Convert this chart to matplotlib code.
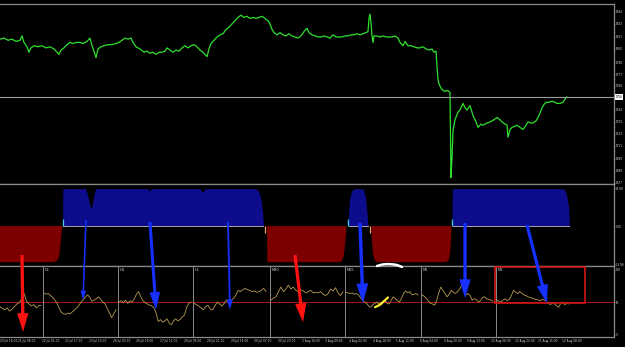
import numpy as np
import matplotlib.pyplot as plt
from matplotlib.patches import Rectangle

# main price series (x = bar position on the time axis)
price_x = [0, 4, 8, 12, 16, 20, 22, 24, 27, 29, 31, 34, 38, 42, 46, 50, 54, 57, 59, 61,
           64, 67, 70, 73, 76, 80, 83, 87, 90, 92, 94, 96, 98, 101, 104, 108, 112, 116, 119, 122,
           125, 128, 131, 133, 136, 140, 144, 147, 150, 153, 156, 159, 162, 165, 167, 170, 173, 176, 179, 182,
           185, 188, 191, 194, 197, 200, 203, 205, 207, 209, 211, 214, 217, 220, 223, 226, 229, 232, 235, 238,
           241, 244, 247, 250, 253, 256, 259, 262, 265, 268, 270, 272, 274, 277, 280, 283, 286, 289, 292, 295,
           298, 301, 304, 307, 309, 312, 315, 318, 321, 324, 327, 330, 333, 336, 339, 342, 345, 348, 351, 354,
           357, 360, 363, 366, 368, 369, 370, 371, 372, 373, 374, 377, 380, 383, 386, 389, 392, 395, 398, 400,
           403, 405, 408, 411, 414, 417, 420, 423, 426, 429, 432, 434, 436, 437, 438, 439, 441, 443, 445, 447,
           449, 450, 451, 452, 453, 455, 458, 460, 463, 465, 467, 470, 473, 476, 478, 481, 483, 487, 490, 494,
           497, 500, 502, 505, 507, 508, 510, 512, 515, 517, 520, 523, 526, 528, 531, 533, 536, 538, 540, 542,
           544, 546, 549, 552, 555, 557, 560, 563, 565, 567]
price_y = [1809, 1810, 1808, 1809, 1807, 1808, 1812, 1806, 1802, 1797, 1801, 1803, 1802, 1803, 1801, 1802, 1800, 1797, 1795, 1799,
           1801, 1804, 1806, 1805, 1806, 1806, 1805, 1807, 1810, 1803, 1798, 1792, 1800, 1802, 1803, 1804, 1804, 1805, 1806, 1808,
           1810, 1809, 1810, 1806, 1802, 1800, 1797, 1798, 1796, 1797, 1795, 1797, 1797, 1798, 1801, 1799, 1797, 1799, 1798, 1801,
           1803, 1801, 1803, 1804, 1802, 1799, 1797, 1795, 1793, 1800, 1805, 1808, 1811, 1813, 1814, 1818, 1820, 1823, 1826, 1829,
           1831, 1829, 1830, 1828, 1829, 1828, 1829, 1830, 1828, 1826, 1823, 1818, 1815, 1813, 1815, 1813, 1812, 1814, 1812, 1811,
           1810, 1812, 1816, 1819, 1815, 1813, 1812, 1811, 1811, 1812, 1811, 1810, 1813, 1811, 1811, 1811, 1812, 1812, 1813, 1813,
           1814, 1813, 1814, 1815, 1816, 1828, 1832, 1824, 1812, 1806, 1812, 1812, 1811, 1812, 1811, 1811, 1811, 1812, 1810, 1806,
           1803, 1807, 1803, 1803, 1802, 1801, 1801, 1802, 1800, 1799, 1800, 1797, 1798, 1784, 1772, 1768, 1764, 1762, 1761, 1762,
           1761, 1760, 1682, 1700, 1725, 1735, 1742, 1744, 1750, 1746, 1744, 1748, 1739, 1733, 1728, 1731, 1730, 1732, 1733, 1735,
           1737, 1735, 1733, 1731, 1730, 1719, 1726, 1728, 1729, 1730, 1728, 1726, 1730, 1733, 1732, 1732, 1734, 1737, 1741, 1746,
           1749, 1751, 1751, 1752, 1751, 1750, 1750, 1751, 1754, 1755.9]
price_ticks = [1834, 1823, 1811, 1800, 1788, 1777, 1766, 1744, 1733, 1722, 1711, 1699, 1688, 1677]

# oscillator (blue above zero, red below)
osc_x = [0, 54, 57, 59, 60, 61, 62, 62.5,
         63, 63.3, 86, 88, 90, 92, 94, 96, 148, 150, 152, 200, 203, 206, 256, 259, 261, 263, 264,
         267, 267.3, 339, 342, 344, 345.5, 346.5,
         348.5, 349, 350, 352, 355, 362, 364, 366, 367.5, 368.5,
         371.5, 372, 373, 375, 377, 446, 448.5, 450, 451, 451.5,
         452.5, 452.8, 562, 565, 567, 569, 570]
osc_v = [-15.2, -15.2, -14.6, -13, -10, -5, -1, 0,
         0, 15.5, 15.5, 13, 9, 7, 12, 15.5, 15.5, 14.5, 15.5, 15.5, 14, 15.5, 15.5, 14.5, 12, 6, 0,
         0, -15.2, -15.2, -14.6, -12, -6, 0,
         0, 5, 11, 14.5, 15.5, 15.5, 15, 12, 5, 0,
         0, -6, -12, -14.6, -15.2, -15.2, -14.6, -12, -6, 0,
         0, 15.5, 15.5, 15, 13, 8, 0]
cyan_x = [63, 348, 452]
orange_x = [265, 370]

# multi-timeframe RSI strip
tf_names = ['W1', 'D1', 'H4', 'H1', 'M30', 'M15', 'M5', 'M1']
tf_bounds = [(0, 41), (44, 116), (119, 191), (194, 266), (271, 343), (346, 418), (422, 493), (497, 569)]
rsi_w1 = [43, 40, 38, 41, 36, 39, 43, 47, 49, 55, 63, 51, 47, 44, 46, 41, 44, 45]
rsi_d1 = [64, 62, 63, 60, 57, 53, 48, 40, 34, 32, 31, 33, 32, 35, 38, 41, 45, 50, 54, 58, 61, 57, 51, 53, 55, 58, 54, 50, 47, 40, 33, 26, 32, 38]
rsi_h4 = [50, 52, 49, 53, 48, 52, 50, 55, 62, 66, 58, 52, 49, 47, 45, 44, 41, 33, 20, 23, 19, 21, 24, 18, 15, 21, 24, 21, 23, 27, 30, 42, 48, 50]
rsi_h1 = [48, 46, 44, 41, 38, 43, 45, 39, 38, 44, 50, 47, 44, 48, 53, 50, 52, 56, 60, 68, 66, 69, 71, 69, 68, 66, 67, 65, 66, 68, 71, 66]
rsi_m30 = [53, 56, 58, 66, 73, 66, 70, 76, 70, 73, 68, 66, 69, 67, 64, 66, 68, 64, 65, 64, 66, 62, 60, 63, 70, 67, 72, 64, 60, 66]
rsi_m15 = [65, 64, 63, 64, 62, 63, 61, 57, 53, 50, 48, 44, 42, 46, 48, 50, 47, 45, 49, 52, 48, 47, 53, 58, 55, 52, 50, 56, 63, 67, 64, 66, 61, 62, 63, 61]
rsi_m5 = [61, 59, 56, 52, 48, 47, 45, 52, 64, 73, 68, 63, 58, 62, 68, 65, 63, 66, 70, 76, 68, 61, 63, 60, 53, 55, 54, 50, 52, 57, 58, 55, 54, 53, 51]
rsi_m1 = [53, 51, 50, 53, 55, 52, 54, 60, 68, 65, 63, 66, 64, 61, 60, 58, 57, 56, 55, 54, 53, 52, 54, 53, 51, 48, 46, 49, 47, 44, 42, 48, 50, 46, 48, 47]
rsi_all = [rsi_w1, rsi_d1, rsi_h4, rsi_h1, rsi_m30, rsi_m15, rsi_m5, rsi_m1]

date_labels = ['20 Jul 16:00', '21 Jul 08:00', '22 Jul 01:00', '22 Jul 17:00', '23 Jul 10:00',
               '26 Jul 03:00', '26 Jul 19:00', '27 Jul 12:00', '28 Jul 05:00', '28 Jul 21:00',
               '29 Jul 14:00', '30 Jul 07:00', '30 Jul 23:00', '2 Aug 16:00', '3 Aug 09:00',
               '4 Aug 02:00', '4 Aug 18:00', '5 Aug 11:00', '6 Aug 04:00', '6 Aug 20:00',
               '9 Aug 13:00', '10 Aug 06:00', '10 Aug 22:00', '11 Aug 15:00', '12 Aug 08:00']

# hand-drawn arrows: (x start, osc value) -> (x end, rsi value)
blue_arrows = [((86, 2.5), (83, 53), 0.9), ((150, 1.7), (156, 38), 1.7), ((228, 1.7), (230, 38), 1.0),
               ((360, 1.3), (363, 48), 1.9), ((465, 1.3), (465, 56), 1.8), ((527, 0.4), (547, 48), 1.8)]
red_arrows = [((22, -12.2), (23, 4), 1.8), ((295, -12.2), (303, 19), 1.8)]
white_mark_x = [377, 382, 387, 393, 397, 402]
white_mark_y = [105.4, 107.6, 108.4, 107.9, 106.9, 103.9]
yellow_mark_x = [375, 379, 383, 388]
yellow_mark_y = [42, 45, 50, 57]

W, H = 625, 347
right = 614
grey = '#8a8a8a'
fig = plt.figure(figsize=(6.25, 3.47), dpi=100, facecolor='black')


def panel(top, bottom):
    ax = fig.add_axes([0, 1 - bottom / H, right / W, (bottom - top) / H])
    ax.set_facecolor('black')
    ax.set_xlim(0, right)
    ax.spines['left'].set_visible(False)
    for s in ['top', 'right', 'bottom']:
        ax.spines[s].set_color(grey)
        ax.spines[s].set_linewidth(0.9)
    ax.set_xticks([])
    ax.yaxis.tick_right()
    ax.tick_params(axis='y', color=grey, labelcolor='#d8d8d8', labelsize=2.0, length=1, width=0.5, pad=0.3)
    return ax


ax1 = panel(4, 184)
ax2 = panel(184, 266)
ax3 = panel(266, 337)

# price
ax1.set_ylim(1676, 1841.3)
ax1.plot(price_x, price_y, color='#2ee02e', lw=0.9)
ax1.axhline(price_y[-1], color='#9a9a9a', lw=0.8)
ax1.set_yticks(price_ticks)
ax1.set_yticklabels([str(t) for t in price_ticks])
ax1.text(1.0025, price_y[-1], f'{price_y[-1]:.0f}', transform=ax1.get_yaxis_transform(),
         fontsize=2.0, va='center', ha='left', color='black',
         bbox=dict(fc='white', ec='none', pad=0.4))

# oscillator
x = np.array(osc_x)
v = np.array(osc_v)
ax2.set_ylim(-16.8, 17.64)
ax2.fill_between(x, 0, v, where=v >= 0, color='#0c0c8c', lw=0, interpolate=True)
ax2.plot(x, np.where(v > 0, 0, np.nan), color='#a8a8a8', lw=0.7)
ax2.fill_between(x, 0, v, where=v <= 0, color='#7c0000', lw=0, interpolate=True)
ax2.vlines(cyan_x, 0, 3, color='#40c8e8', lw=0.9)
ax2.vlines(orange_x, 0, -3, color='#f0a070', lw=0.9)
ax2.set_yticks([15.96, 0, -15.96])
ax2.set_yticklabels(['15.96', '0.00', '-15.96'])

# RSI strip
ax3.set_ylim(-3.8, 105.4)
ax3.axhline(50, color='#a01515', lw=0.8)
for name, (x0, x1), vals in zip(tf_names, tf_bounds, rsi_all):
    ax3.plot(np.linspace(x0, x1, len(vals)), vals, color='#b89a50', lw=0.6)
    if name != 'W1':
        ax3.axvline(x0 - 1, color=grey, lw=0.7)
        ax3.text(x0 + 1, 103, name, fontsize=2.6, color='#cfcfcf', va='top', ha='left')
ax3.set_yticks([100, 50, 0])
ax3.set_yticklabels(['100', '50', '0'])
for i, lab in enumerate(date_labels):
    ax3.text(max(0.3, -5.65 + 23.65 * i), -0.035, lab, transform=ax3.get_xaxis_transform(),
             fontsize=2.1, color='#d8d8d8', va='top', ha='left', clip_on=False)

# annotations drawn over the indicators
ax3.plot(white_mark_x, white_mark_y, color='white', lw=1.8, clip_on=False, solid_capstyle='round', zorder=6)
ax3.plot(yellow_mark_x, yellow_mark_y, color='#ffee33', lw=1.6, solid_capstyle='round', zorder=6)
ax3.add_patch(Rectangle((495, 48.5), 90, 55.3, fill=False, ec='#d41414', lw=1.2, zorder=5))
for (p0, p1, sc), col in [(a, '#1530ff') for a in blue_arrows] + [(a, '#ff1212') for a in red_arrows]:
    ax3.annotate('', xy=p1, xytext=p0, textcoords=ax2.transData, annotation_clip=False,
                 arrowprops=dict(arrowstyle=f'simple,head_length={0.75 * sc},head_width={0.45 * sc},tail_width={0.13 * sc}',
                                 color=col, lw=0, mutation_scale=10, shrinkA=0, shrinkB=0), zorder=7)

fig.savefig('out.png', dpi=100, facecolor='black')
